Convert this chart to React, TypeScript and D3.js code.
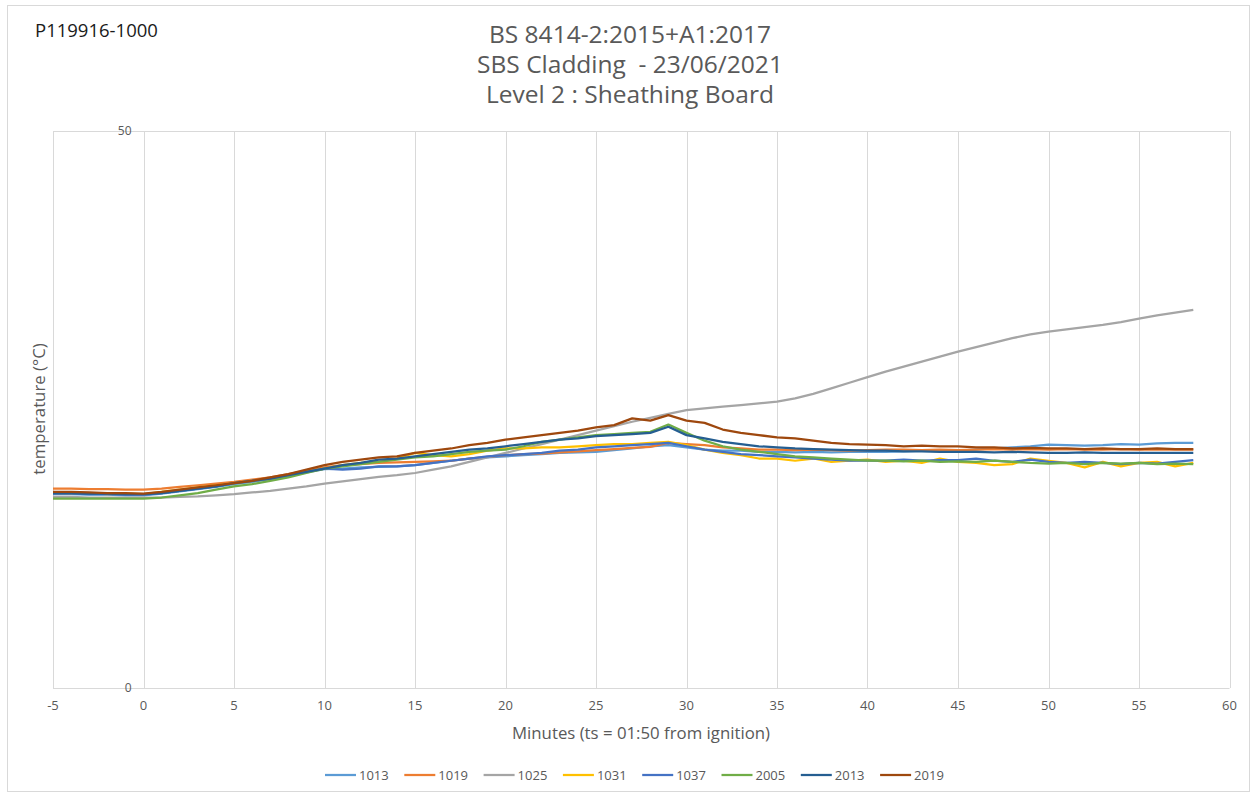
import React from "react";
import * as d3 from "d3";

const minutes: number[] = Array.from({ length: 64 }, (_, i) => i - 5);

const s1013 = [17.4, 17.4, 17.35, 17.35, 17.3, 17.3,
  17.45, 17.65, 17.85, 18.05, 18.3, 18.5, 18.75, 19.05, 19.35, 19.65,
  19.7, 19.8, 19.85, 19.9, 20.0, 20.2, 20.4, 20.6, 20.7, 20.8,
  20.9, 21.0, 21.1, 21.15, 21.2, 21.35, 21.5, 21.7, 21.8, 21.6,
  21.4, 21.3, 21.3, 21.2, 21.2, 21.15, 21.2, 21.15, 21.2, 21.2,
  21.2, 21.25, 21.3, 21.3, 21.3, 21.4, 21.5, 21.6, 21.7, 21.85,
  21.8, 21.75, 21.8, 21.9, 21.85, 21.95, 22.0, 22.0];
const s1019 = [17.9, 17.9, 17.85, 17.85, 17.8, 17.8,
  17.9, 18.05, 18.2, 18.35, 18.5, 18.7, 18.9, 19.2, 19.5, 19.8,
  20.0, 20.1, 20.2, 20.25, 20.3, 20.35, 20.4, 20.6, 20.75, 20.9,
  21.0, 21.05, 21.15, 21.25, 21.35, 21.45, 21.55, 21.65, 22.0, 21.9,
  21.8, 21.6, 21.5, 21.4, 21.4, 21.35, 21.4, 21.35, 21.3, 21.35,
  21.4, 21.4, 21.35, 21.4, 21.35, 21.4, 21.45, 21.4, 21.45, 21.4,
  21.45, 21.4, 21.4, 21.45, 21.4, 21.4, 21.4, 21.4];
const s1025 = [17.15, 17.15, 17.1, 17.1, 17.1, 17.1,
  17.1, 17.15, 17.2, 17.3, 17.4, 17.55, 17.7, 17.9, 18.1, 18.35,
  18.55, 18.75, 18.95, 19.1, 19.3, 19.6, 19.9, 20.3, 20.7, 21.1,
  21.5, 21.9, 22.3, 22.7, 23.1, 23.5, 23.9, 24.25, 24.6, 24.95,
  25.1, 25.25, 25.4, 25.55, 25.7, 26.0, 26.4, 26.9, 27.4, 27.9,
  28.4, 28.85, 29.3, 29.75, 30.2, 30.6, 31.0, 31.4, 31.75, 32.0,
  32.2, 32.4, 32.6, 32.85, 33.15, 33.45, 33.7, 33.95];
const s1031 = [17.5, 17.45, 17.5, 17.4, 17.45, 17.4,
  17.6, 17.8, 18.0, 18.2, 18.4, 18.6, 18.8, 19.1, 19.4, 19.7,
  20.0, 20.2, 20.3, 20.6, 21.1, 20.9, 20.8, 21.0, 21.3, 21.5,
  21.5, 21.6, 21.6, 21.7, 21.8, 21.9, 21.9, 22.0, 22.1, 21.8,
  21.4, 21.1, 20.9, 20.6, 20.6, 20.4, 20.6, 20.3, 20.4, 20.5,
  20.3, 20.4, 20.2, 20.6, 20.3, 20.2, 20.0, 20.1, 20.6, 20.4,
  20.2, 19.8, 20.3, 19.9, 20.2, 20.3, 19.9, 20.2];
const s1037 = [17.45, 17.45, 17.4, 17.4, 17.35, 17.35,
  17.5, 17.7, 17.9, 18.1, 18.4, 18.6, 18.8, 19.1, 19.4, 19.7,
  19.6, 19.7, 19.9, 19.9, 20.0, 20.2, 20.4, 20.6, 20.8, 20.9,
  21.0, 21.1, 21.3, 21.4, 21.6, 21.7, 21.8, 21.9, 22.0, 21.7,
  21.4, 21.2, 21.0, 20.9, 20.8, 20.7, 20.6, 20.5, 20.4, 20.4,
  20.4, 20.5, 20.4, 20.45, 20.45, 20.6, 20.4, 20.3, 20.5, 20.3,
  20.2, 20.3, 20.2, 20.1, 20.2, 20.15, 20.3, 20.45];
const s2005 = [17.0, 17.0, 17.0, 17.0, 17.0, 17.0,
  17.1, 17.3, 17.5, 17.8, 18.1, 18.3, 18.6, 18.9, 19.3, 19.7,
  19.9, 20.1, 20.3, 20.5, 20.7, 20.8, 21.0, 21.2, 21.3, 21.4,
  21.7, 22.1, 22.3, 22.5, 22.7, 22.8, 22.9, 23.0, 23.65, 22.9,
  22.2, 21.7, 21.4, 21.2, 21.0, 20.8, 20.7, 20.6, 20.5, 20.4,
  20.4, 20.35, 20.4, 20.3, 20.35, 20.3, 20.4, 20.3, 20.2, 20.15,
  20.2, 20.1, 20.2, 20.15, 20.2, 20.1, 20.15, 20.1];
const s2013 = [17.5, 17.5, 17.45, 17.45, 17.4, 17.4,
  17.5, 17.7, 17.9, 18.1, 18.4, 18.6, 18.8, 19.1, 19.4, 19.7,
  20.0, 20.2, 20.5, 20.6, 20.8, 21.0, 21.2, 21.4, 21.5, 21.7,
  21.9, 22.1, 22.3, 22.4, 22.6, 22.7, 22.8, 22.9, 23.45, 22.7,
  22.4, 22.1, 21.9, 21.7, 21.6, 21.5, 21.45, 21.4, 21.35, 21.3,
  21.3, 21.25, 21.25, 21.2, 21.2, 21.2, 21.15, 21.2, 21.15, 21.1,
  21.1, 21.15, 21.1, 21.1, 21.1, 21.1, 21.1, 21.1];
const s2019 = [17.6, 17.6, 17.55, 17.5, 17.5, 17.45,
  17.6, 17.8, 18.0, 18.2, 18.4, 18.6, 18.9, 19.2, 19.6, 20.0,
  20.3, 20.5, 20.7, 20.8, 21.1, 21.3, 21.5, 21.8, 22.0, 22.3,
  22.5, 22.7, 22.9, 23.1, 23.4, 23.6, 24.2, 24.0, 24.5, 24.0,
  23.8, 23.2, 22.9, 22.7, 22.5, 22.4, 22.2, 22.0, 21.9, 21.85,
  21.8, 21.7, 21.75, 21.7, 21.7, 21.6, 21.6, 21.5, 21.55, 21.5,
  21.5, 21.45, 21.5, 21.45, 21.45, 21.5, 21.45, 21.45];

const seriesNames = ["1013", "1019", "1025", "1031", "1037", "2005", "2013", "2019"];
const seriesValues = [s1013, s1019, s1025, s1031, s1037, s2005, s2013, s2019];
const seriesColors = ["#5B9BD5", "#ED7D31", "#A5A5A5", "#FFC000", "#4472C4", "#70AD47", "#255E91", "#9E480E"];

const xTicks = [-5, 0, 5, 10, 15, 20, 25, 30, 35, 40, 45, 50, 55, 60];
const yTicks = [0, 50];
const titleLines = ["BS 8414-2:2015+A1:2017", "SBS Cladding  - 23/06/2021", "Level 2 : Sheathing Board"];

const FONT = "'Open Sans', Lato, sans-serif";

export default function App() {
  const W = 1255, H = 796;
  const x = d3.scaleLinear().domain([-5, 60]).range([53, 1229.5]);
  const y = d3.scaleLinear().domain([0, 50]).range([688, 131]);
  const line = d3.line<[number, number]>().x(d => x(d[0])).y(d => y(d[1]));
  const grid = "#d9d9d9";

  return (
    <svg width={W} height={H} style={{ position: "absolute", left: 0, top: 0 }} xmlns="http://www.w3.org/2000/svg">
      <rect x={0} y={0} width={W} height={H} fill="#fff" />
      <rect x={7.5} y={5.5} width={1242} height={786} fill="none" stroke={grid} strokeWidth={1} />
      <text x={35} y={37} fontFamily={FONT} fontSize={18.5} fill="#1a1a1a">P119916-1000</text>
      {titleLines.map((t, i) => (
        <text key={t} x={630} y={43 + i * 30} textAnchor="middle" fontFamily={FONT} fontSize={24.5} fill="#595959" style={{ whiteSpace: "pre" }}>{t}</text>
      ))}
      {xTicks.map(t => (
        <line key={"g" + t} x1={Math.round(x(t)) + 0.5} x2={Math.round(x(t)) + 0.5} y1={y(50)} y2={y(0)} stroke={grid} strokeWidth={1} />
      ))}
      {yTicks.map(v => (
        <line key={"h" + v} x1={x(-5)} x2={x(60)} y1={Math.round(y(v)) + 0.5} y2={Math.round(y(v)) + 0.5} stroke={grid} strokeWidth={1} />
      ))}
      {yTicks.map(v => (
        <text key={"yl" + v} x={x(0) - 12} y={y(v)} dy="0.35em" textAnchor="end" fontFamily={FONT} fontSize={12} fill="#595959">{v}</text>
      ))}
      {xTicks.map(t => (
        <text key={"xl" + t} x={x(t)} y={710} textAnchor="middle" fontFamily={FONT} fontSize={13} fill="#595959">{t}</text>
      ))}
      <text x={641} y={739} textAnchor="middle" fontFamily={FONT} fontSize={16.8} fill="#595959">Minutes (ts = 01:50 from ignition)</text>
      <text transform={`translate(45,409) rotate(-90)`} textAnchor="middle" fontFamily={FONT} fontSize={16.8} fill="#595959">temperature (°C)</text>
      {seriesValues.map((vals, i) => (
        <path key={seriesNames[i]} d={line(minutes.map((m, j) => [m, vals[j]] as [number, number])) || ""} fill="none" stroke={seriesColors[i]} strokeWidth={2.25} strokeLinejoin="round" />
      ))}
      {seriesNames.map((n, i) => {
        const lx = 325 + i * 79.3;
        return (
          <g key={"lg" + n}>
            <line x1={lx} x2={lx + 31} y1={775} y2={775} stroke={seriesColors[i]} strokeWidth={2.25} />
            <text x={lx + 34} y={775} dy="0.35em" fontFamily={FONT} fontSize={13} fill="#595959">{n}</text>
          </g>
        );
      })}
    </svg>
  );
}
